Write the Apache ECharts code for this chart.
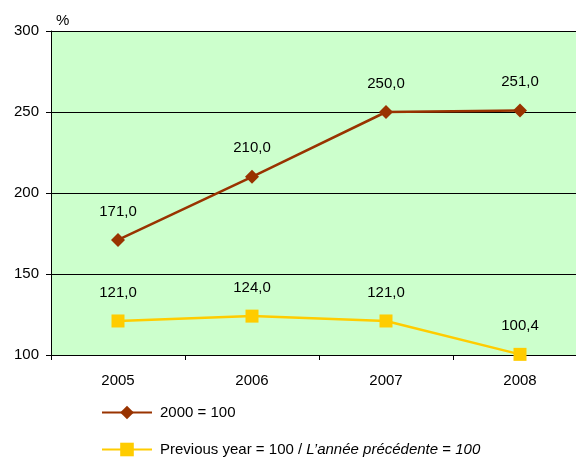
<!DOCTYPE html>
<html><head><meta charset="utf-8">
<script src="https://cdn.jsdelivr.net/npm/echarts@6/dist/echarts.min.js"></script>
<style>html,body{margin:0;padding:0;background:#fff}#c{width:576px;height:459px}</style>
</head><body><div id="c"></div>
<script>
const categories = ['2005', '2006', '2007', '2008'];
const base2000 = [171.0, 210.0, 250.0, 251.0];
const prevYear = [121.0, 124.0, 121.0, 100.4];
const yTicks = [100, 150, 200, 250, 300];
const names = ['2000 = 100', 'Previous year = 100 / L’année précédente = 100'];

const F = 'Liberation Sans, Arial, sans-serif';
const fmt = p => p.value.toFixed(1).replace('.', ',');
const legendText = { color: '#000', fontSize: 15, fontFamily: F, padding: [0, 0, 0, 3],
  rich: { n: { fontSize: 15, fontFamily: F, color: '#000' }, i: { fontSize: 15, fontStyle: 'italic', fontFamily: F, color: '#000' } } };
const chart = echarts.init(document.getElementById('c'));
chart.setOption({
  animation: false,
  textStyle: { fontFamily: F },
  grid: { left: 51, top: 31, width: 536, height: 324, show: true, backgroundColor: '#ccffcc', borderWidth: 0, outerBoundsMode: 'none', containLabel: false },
  xAxis: {
    type: 'category', data: categories,
    axisLine: { lineStyle: { color: '#000', width: 1 } },
    axisTick: { show: true, length: 5, lineStyle: { color: '#000' } },
    axisLabel: { color: '#000', fontSize: 15, margin: 18, fontFamily: F }
  },
  yAxis: {
    type: 'value', min: yTicks[0], max: yTicks[yTicks.length - 1], interval: 50,
    name: '%', nameLocation: 'end', nameGap: 3,
    nameTextStyle: { color: '#000', fontSize: 15, align: 'left', padding: [0, 0, 0, 5], fontFamily: F },
    axisLine: { show: true, lineStyle: { color: '#000' } },
    axisTick: { show: true, length: 5, lineStyle: { color: '#000' } },
    axisLabel: { color: '#000', fontSize: 15, margin: 12, fontFamily: F },
    splitLine: { lineStyle: { color: '#000', width: 1 } }
  },
  legend: [
    { left: 96, top: 400, itemWidth: 50, itemHeight: 17, textStyle: legendText,
      formatter: () => '{n|2000 = 100}', data: [names[0]] },
    { left: 96, top: 437, itemWidth: 50, itemHeight: 17, textStyle: legendText,
      formatter: () => '{n|Previous year = 100 / }{i|L’année précédente}{n| = }{i|100}', data: [names[1]] }
  ],
  series: [
    { name: names[0], type: 'line', data: base2000, symbol: 'diamond', symbolSize: 14,
      lineStyle: { color: '#993300', width: 2.5 }, itemStyle: { color: '#993300' },
      label: { show: true, position: 'top', distance: 14, color: '#000', fontSize: 15, formatter: fmt } },
    { name: names[1], type: 'line', data: prevYear, symbol: 'rect', symbolSize: 13,
      lineStyle: { color: '#ffcc00', width: 2.5 }, itemStyle: { color: '#ffcc00' },
      label: { show: true, position: 'top', distance: 14, color: '#000', fontSize: 15, formatter: fmt } }
  ]
});
</script></body></html>
